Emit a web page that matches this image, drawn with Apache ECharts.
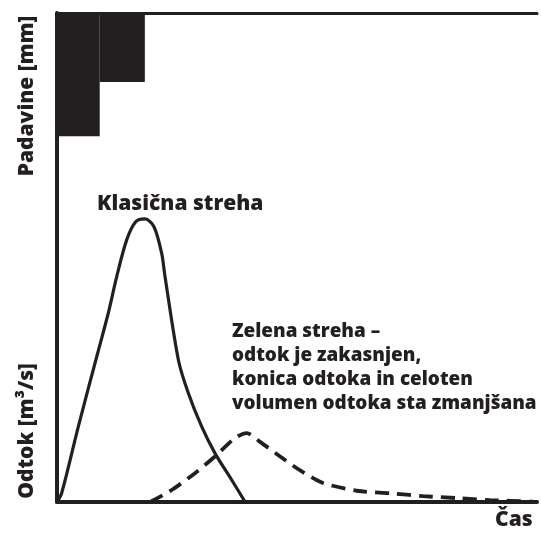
<!DOCTYPE html>
<html><head><meta charset="utf-8">
<script src="https://cdn.jsdelivr.net/npm/echarts@6/dist/echarts.min.js"></script>
<style>html,body{margin:0;padding:0;background:#fff}#c{width:541px;height:538px}</style>
</head><body><div id="c"></div>
<script>
// Rain blocks: [start time, end time, rainfall]
const rainStart = [0, 8.9];
const rainEnd = [8.9, 18.3];
const rainDepth = [25.2, 14.1];
// Runoff hydrographs: time / discharge
const classicT = [0, 0.98, 4.44, 8.27, 10.69, 12.44, 14.52, 16.4, 18.33, 20.2, 21.8, 22.5, 25.3, 27.35, 30.15, 32.9, 36.4, 39.2];
const classicQ = [0, 1.84, 15.4, 29.7, 38.65, 46.1, 53.6, 57.3, 57.9, 56.3, 50.9, 46.1, 29.0, 22.3, 15.4, 10.0, 4.5, 0];
const greenT = [19.4, 23.9, 28.75, 32.9, 37.1, 39.5, 42.3, 46.5, 50.6, 55.4, 62.4, 69.4, 76.25, 83.3, 90.2, 99.2];
const greenQ = [0, 2.45, 5.9, 9.3, 13.1, 14.1, 12.3, 9.3, 6.5, 3.9, 2.3, 1.8, 1.2, 0.8, 0.4, 0.06];

const INK = '#231f20';
const FONT = '"Open Sans", sans-serif';
const chart = echarts.init(document.getElementById('c'), null, {renderer: 'canvas'});
const zip = (a, b) => a.map((v, i) => [v, b[i]]);
const hidden = {axisTick:{show:false}, axisLabel:{show:false}, splitLine:{show:false}};
chart.setOption({
  backgroundColor: '#fff',
  animation: false,
  grid: {left: 57, top: 13, width: 480, height: 489},
  xAxis: [
    Object.assign({type:'value', min:0, max:100, position:'bottom',
      axisLine:{show:true, lineStyle:{color:INK, width:4}}}, hidden),
    Object.assign({type:'value', min:0, max:100, position:'top',
      axisLine:{show:true, lineStyle:{color:INK, width:3}}}, hidden)
  ],
  yAxis: [
    Object.assign({type:'value', min:0, max:100, position:'left',
      axisLine:{show:true, lineStyle:{color:INK, width:4}}}, hidden),
    Object.assign({type:'value', min:0, max:100, inverse:true, position:'right',
      axisLine:{show:false}}, hidden)
  ],
  series: [
    {
      type:'custom', xAxisIndex:0, yAxisIndex:1,
      data: rainStart.map((s, i) => [s, rainEnd[i], rainDepth[i]]),
      renderItem: function (params, api) {
        const a = api.coord([api.value(0), 0]);
        const b = api.coord([api.value(1), api.value(2)]);
        return {type:'rect', shape:{x:a[0], y:a[1], width:b[0]-a[0], height:b[1]-a[1]},
          style:{fill:INK}};
      }
    },
    {
      type:'line', data: zip(classicT, classicQ), smooth:0.3, showSymbol:false,
      lineStyle:{color:INK, width:3.2}
    },
    {
      type:'line', data: zip(greenT, greenQ), smooth:0.25, showSymbol:false,
      lineStyle:{color:INK, width:3.8, type:[14, 8]}
    }
  ],
  graphic: [
    {type:'text', left:97, top:194, style:{text:'Klasična streha', font:'800 21px ' + FONT, fill:INK}},
    {type:'text', left:232, top:320, style:{text:'Zelena streha –\nodtok je zakasnjen,\nkonica odtoka in celoten\nvolumen odtoka sta zmanjšana',
      font:'800 18.9px ' + FONT, lineHeight:24, fill:INK}},
    {type:'text', x:27, y:96, rotation:Math.PI/2, style:{text:'Padavine [mm]', font:'800 21px ' + FONT, fill:INK, align:'center', verticalAlign:'middle'}},
    {type:'text', x:27, y:431, rotation:Math.PI/2, style:{text:'Odtok [m³/s]', font:'800 21px ' + FONT, fill:INK, align:'center', verticalAlign:'middle'}},
    {type:'text', left:495, top:510, style:{text:'Čas', font:'800 21px ' + FONT, fill:INK}}
  ]
});
</script></body></html>
